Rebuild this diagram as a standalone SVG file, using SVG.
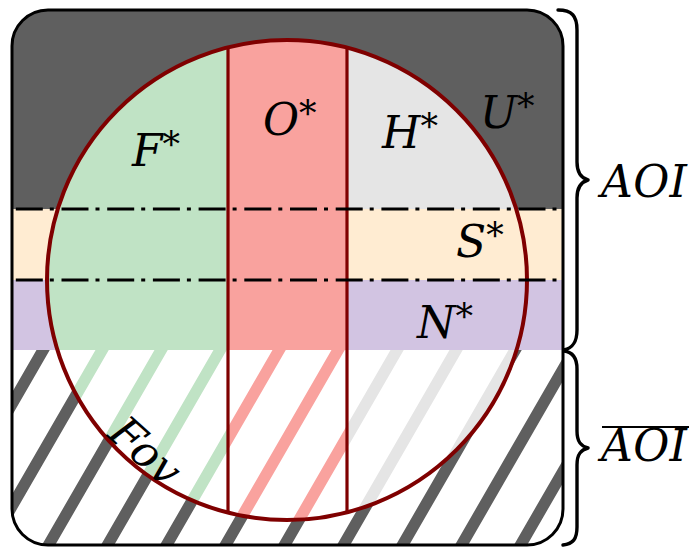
<svg xmlns="http://www.w3.org/2000/svg" width="689" height="547" viewBox="0 0 689 547">
<style>
.lbl{font-family:"DejaVu Serif","Liberation Serif",serif;font-style:italic;font-size:44px;fill:#000}
.st{font-style:normal;font-size:35px}
.dd{stroke:#000;stroke-width:3.2;stroke-dasharray:27 7 4 7.7;fill:none}
.brace{fill:none;stroke:#000;stroke-width:3.4;stroke-linecap:round;stroke-linejoin:round}
.div{stroke:#7f0000;stroke-width:3.2;fill:none}
</style>
<defs>
<clipPath id="cRect"><rect x="12" y="10" width="551" height="535" rx="36"/></clipPath>
<clipPath id="cBot"><rect x="0" y="350" width="689" height="197"/></clipPath>
<clipPath id="cCirc"><circle cx="287" cy="280" r="240"/></clipPath>
<clipPath id="cL"><rect x="0" y="0" width="228" height="547"/></clipPath>
<clipPath id="cM"><rect x="228" y="0" width="119" height="547"/></clipPath>
<clipPath id="cR"><rect x="347" y="0" width="342" height="547"/></clipPath>
<path id="hatch" fill="none" stroke-width="11.5" d="M48.9,340L-78.1,560M107.9,340L-19.1,560M166.9,340L39.9,560M225.9,340L98.9,560M284.9,340L157.9,560M343.9,340L216.9,560M402.9,340L275.9,560M461.9,340L334.9,560M520.9,340L393.9,560M579.9,340L452.9,560M638.9,340L511.9,560"/>
</defs>

<g id="aoi-area" clip-path="url(#cRect)">
  <rect x="0" y="0" width="689" height="209" fill="#5f5f5f"/>
  <rect x="0" y="209" width="689" height="71" fill="#ffecd2"/>
  <rect x="0" y="280" width="689" height="70" fill="#d2c4e2"/>
  <rect x="0" y="350" width="689" height="197" fill="#ffffff"/>
  <g clip-path="url(#cBot)"><use href="#hatch" stroke="#5f5f5f"/></g>
</g>

<g id="fov-regions" clip-path="url(#cCirc)">
  <g id="region-F" clip-path="url(#cL)">
    <rect x="0" y="0" width="689" height="350" fill="#c0e3c5"/>
    <rect x="0" y="350" width="689" height="197" fill="#ffffff"/>
    <g clip-path="url(#cBot)"><use href="#hatch" stroke="#c0e3c5"/></g>
  </g>
  <g id="region-O" clip-path="url(#cM)">
    <rect x="0" y="0" width="689" height="350" fill="#f9a29e"/>
    <rect x="0" y="350" width="689" height="197" fill="#ffffff"/>
    <g clip-path="url(#cBot)"><use href="#hatch" stroke="#f9a29e"/></g>
  </g>
  <g id="region-H" clip-path="url(#cR)">
    <rect x="0" y="0" width="689" height="209" fill="#e5e5e5"/>
    <rect x="0" y="350" width="689" height="197" fill="#ffffff"/>
    <g clip-path="url(#cBot)"><use href="#hatch" stroke="#e5e5e5"/></g>
  </g>
</g>

<g id="fov-lines">
  <g clip-path="url(#cCirc)">
    <line class="div" x1="228" y1="30" x2="228" y2="530"/>
    <line class="div" x1="347" y1="30" x2="347" y2="530"/>
  </g>
  <circle cx="287" cy="280" r="240" fill="none" stroke="#7f0000" stroke-width="4"/>
</g>

<g id="band-lines">
  <line class="dd" x1="15.8" y1="209" x2="563" y2="209"/>
  <line class="dd" x1="15.8" y1="280" x2="563" y2="280"/>
</g>

<rect id="frame" x="12" y="10" width="551" height="535" rx="36" fill="none" stroke="#000" stroke-width="3"/>

<g id="braces">
  <path class="brace" d="M558,10 C572,10 577,16 577,30 L577,162 C577,173 581,178 588,180 C581,182 577,187 577,198 L577,330 C577,343 572,348 564,350"/>
  <path class="brace" d="M564,351 C572,352 577,357 577,369 L577,431 C577,442 581,446 588,448 C581,450 577,454 577,465 L577,527 C577,539 573,544 563,545"/>
</g>

<g id="labels">
  <text class="lbl" x="132" y="166">F<tspan class="st" dy="-9">*</tspan></text>
  <text class="lbl" x="263" y="135">O<tspan class="st" dy="-9">*</tspan></text>
  <text class="lbl" x="382" y="148">H<tspan class="st" dy="-9">*</tspan></text>
  <text class="lbl" x="480" y="128">U<tspan class="st" dy="-9">*</tspan></text>
  <text class="lbl" x="456" y="257">S<tspan class="st" dy="-9">*</tspan></text>
  <text class="lbl" x="417" y="338">N<tspan class="st" dy="-9">*</tspan></text>
  <text class="lbl" x="601" y="197" textLength="86">AOI</text>
  <text class="lbl" x="601" y="461" textLength="86">AOI</text>
  <line x1="602" y1="427" x2="689" y2="427" stroke="#000" stroke-width="2"/>
  <text class="lbl" x="106" y="436" font-size="33" transform="rotate(42 106 436)">Fov</text>
</g>
</svg>
